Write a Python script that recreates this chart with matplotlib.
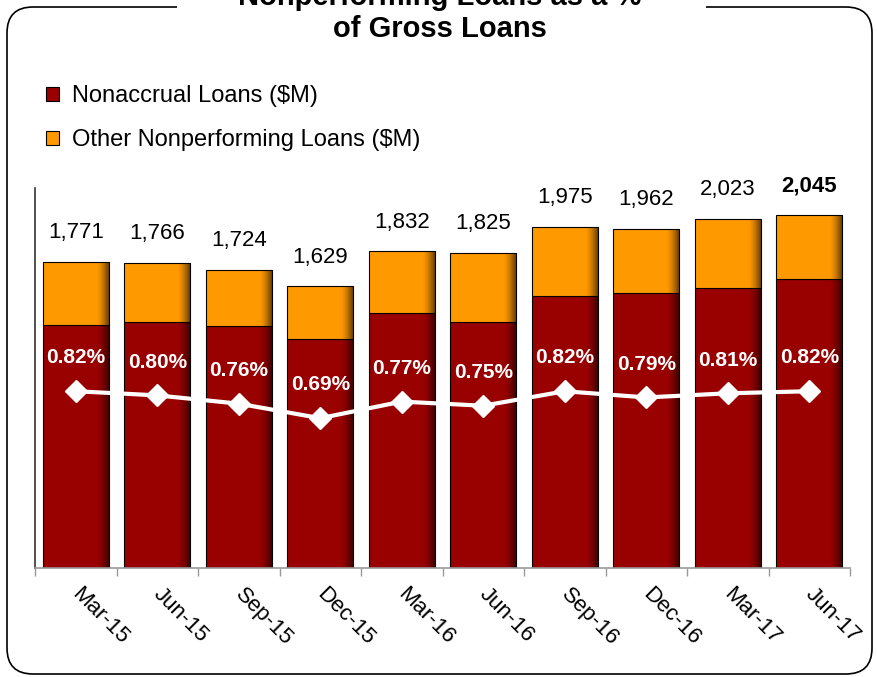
import matplotlib
matplotlib.use('Agg')
import matplotlib.pyplot as plt
from matplotlib.patches import FancyBboxPatch, Rectangle
from matplotlib.transforms import IdentityTransform, ScaledTranslation
import numpy as np

plt.rcParams['font.family'] = ['Liberation Sans', 'DejaVu Sans']

categories = ['Mar-15', 'Jun-15', 'Sep-15', 'Dec-15', 'Mar-16',
              'Jun-16', 'Sep-16', 'Dec-16', 'Mar-17', 'Jun-17']
totals = [1771, 1766, 1724, 1629, 1832, 1825, 1975, 1962, 2023, 2045]
nonaccrual = [1405, 1422, 1399, 1324, 1473, 1421, 1573, 1589, 1621, 1671]
other = [366, 344, 325, 305, 359, 404, 402, 373, 402, 374]
npl_pct = [0.82, 0.80, 0.76, 0.69, 0.77, 0.75, 0.82, 0.79, 0.81, 0.82]

W, H = 877, 677
fig = plt.figure(figsize=(W / 100, H / 100), dpi=100)

# rounded frame
frame = FancyBboxPatch((7, H - 674), 865, 667,
                       boxstyle='round,pad=0,rounding_size=26',
                       transform=IdentityTransform(), facecolor='none',
                       edgecolor='black', linewidth=1.2, zorder=1)
fig.add_artist(frame)
cover = Rectangle((177, H - 7 - 5), 706 - 177, 10, transform=IdentityTransform(),
                  facecolor='white', edgecolor='none', zorder=2)
fig.add_artist(cover)

fig.text(440 / W, 1 - 13 / H, 'Nonperforming Loans as a %\nof Gross Loans',
         ha='center', va='center', fontsize=21, fontweight='bold',
         linespacing=1.2, zorder=3)

ax = fig.add_axes([35 / W, 1 - 567.5 / H, 815 / W, 379.5 / H])
x = np.arange(len(categories))
b1 = ax.bar(x, nonaccrual, width=0.81, color='#990000', edgecolor='black',
            linewidth=0.8, label='Nonaccrual Loans ($M)', zorder=2)
b2 = ax.bar(x, other, width=0.81, bottom=nonaccrual, color='#FF9900',
            edgecolor='black', linewidth=0.8, label='Other Nonperforming Loans ($M)',
            zorder=2)

# subtle shading at the right edge of each bar segment
grad = np.zeros((1, 100, 4))
ramp = np.clip((np.linspace(0, 1, 100) - 0.8) / 0.2, 0, 1)
grad[0, :, 3] = ramp ** 1.5 * 0.65
for patch in list(b1) + list(b2):
    x0, y0 = patch.get_x(), patch.get_y()
    w, h = patch.get_width(), patch.get_height()
    im = ax.imshow(grad, extent=[x0, x0 + w, y0, y0 + h], aspect='auto',
                   interpolation='bilinear', zorder=2.5)
    im.set_clip_path(patch)

ax.set_xlim(-0.5, len(categories) - 0.5)
ax.set_ylim(0, 2200)

for i, t in enumerate(totals):
    ax.annotate(f'{t:,}', (i, t), xytext=(0, 17), textcoords='offset points',
                ha='center', va='baseline', fontsize=16,
                fontweight='bold' if i == len(totals) - 1 else 'normal')

for s in ['top', 'right']:
    ax.spines[s].set_visible(False)
ax.spines['left'].set_color('#333333')
ax.spines['left'].set_linewidth(1.2)
ax.spines['bottom'].set_color('#999999')
ax.spines['bottom'].set_linewidth(1.2)

ax2 = ax.twinx()
ax2.set_ylim(-0.03, 1.8)
ax2.plot(x, npl_pct, color='white', lw=3, marker='D', ms=11.5,
         mfc='white', mec='white')
for i, p in enumerate(npl_pct):
    ax2.annotate(f'{p:.2f}%', (i, p), xytext=(0, 20), textcoords='offset points',
                 ha='center', va='baseline', fontsize=15, fontweight='bold',
                 color='white')
ax2.set_axis_off()

ax.tick_params(axis='y', which='both', left=False, right=False,
               labelleft=False, labelright=False)
ax.set_xticks(x)
ax.set_xticklabels(categories, rotation=-45, ha='left', va='top',
                   rotation_mode='anchor', fontsize=16)
ax.tick_params(axis='x', which='major', length=0, pad=12)
ax.set_xticks(np.arange(-0.5, len(categories), 1), minor=True)
ax.tick_params(axis='x', which='minor', length=6, color='#999999', width=1)
shift = ScaledTranslation(5 / 72, 0, fig.dpi_scale_trans)
for lbl in ax.get_xticklabels():
    lbl.set_transform(lbl.get_transform() + shift)

fig.legend(handles=[b1, b2], loc='upper left',
           bbox_to_anchor=(46 / W, 1 - 85 / H), frameon=False, fontsize=17,
           handlelength=0.55, handleheight=0.55, handletextpad=0.55,
           labelspacing=0.95, borderaxespad=0, borderpad=0)

fig.savefig('out.png', dpi=100)
